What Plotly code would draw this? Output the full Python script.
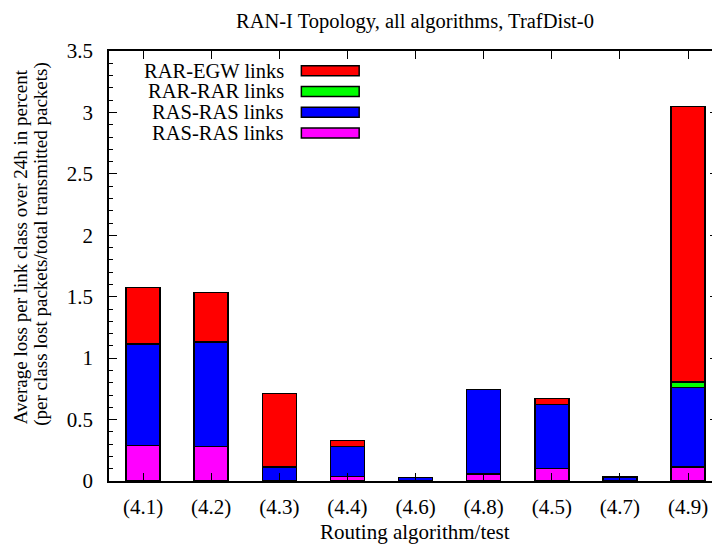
import plotly.graph_objects as go

# ---- data ----
categories = ["(4.1)", "(4.2)", "(4.3)", "(4.4)", "(4.6)", "(4.8)", "(4.5)", "(4.7)", "(4.9)"]
ras_ras_2 = [0.29, 0.28, 0.0, 0.035, 0.0, 0.057, 0.10, 0.0, 0.116]     # magenta (bottom)
ras_ras_1 = [0.825, 0.85, 0.116, 0.247, 0.03, 0.689, 0.524, 0.033, 0.647]  # blue
rar_rar = [0, 0, 0, 0, 0, 0, 0, 0, 0.043]                                # green
rar_egw = [0.462, 0.404, 0.598, 0.046, 0, 0, 0.049, 0, 2.241]            # red (top)
legend_names = ["RAR-EGW links", "RAR-RAR links", "RAS-RAS links", "RAS-RAS links"]
legend_colors = ["#ff0000", "#00ff00", "#0000ff", "#ff00ff"]
y_ticks = [0, 0.5, 1, 1.5, 2, 2.5, 3, 3.5]

# page has an 8px body margin: figure occupies page pixels 8..720 x 8..544
OFF = 8
W, H = 720 - OFF, 544 - OFF
L, R, T, B = 109 - OFF, 0, 51 - OFF, 544 - 481
PW, PH = W - L - R, H - T - B

def px(x):  # page pixel -> paper x
    return (x - OFF - L) / PW

def py(y):  # page pixel -> paper y
    return (481 - y) / PH

FONT = "Liberation Serif, Times New Roman, serif"
fig = go.Figure()
stack = [(ras_ras_2, "#ff00ff", legend_names[3]),
         (ras_ras_1, "#0000ff", legend_names[2]),
         (rar_rar, "#00ff00", legend_names[1]),
         (rar_egw, "#ff0000", legend_names[0])]
for vals, col, name in stack:
    fig.add_trace(go.Bar(x=categories, y=vals, name=name, width=0.5,
                         marker=dict(color=col, line=dict(color="black", width=1.5)),
                         showlegend=False))

axis_common = dict(showline=True, linecolor="black", linewidth=1.5, mirror="allticks",
                   ticks="inside", tickcolor="black", showgrid=False, zeroline=False,
                   tickfont=dict(size=21, family=FONT, color="black"))
fig.update_layout(
    width=W, height=H, barmode="stack",
    margin=dict(l=L, r=R, t=T, b=B, pad=0),
    paper_bgcolor="white", plot_bgcolor="white",
    font=dict(family=FONT, size=21, color="black"),
    bargap=0.5,
    xaxis=dict(range=[-0.5, 8.44], ticklen=8, tickwidth=1, ticklabelstandoff=6,
               tickmode="array", tickvals=categories, **axis_common),
    yaxis=dict(range=[0, 3.5], tickvals=y_ticks, ticktext=[f"{v:g}" for v in y_ticks],
               ticklen=8, tickwidth=1, ticklabelstandoff=10,
               minor=dict(ticks="inside", dtick=0.1, ticklen=4, tickcolor="black", tickwidth=1),
               **axis_common),
)

ann = []
ann.append(dict(text="RAN-I Topology, all algorithms, TrafDist-0", xref="paper", yref="paper",
                x=px(416), y=py(8), xanchor="center", yanchor="top", showarrow=False,
                font=dict(size=20.5, family=FONT)))
ann.append(dict(text="Routing algorithm/test", xref="paper", yref="paper",
                x=px(416.5), y=py(532), xanchor="center", yanchor="middle", showarrow=False,
                font=dict(size=21, family=FONT)))
ann.append(dict(text="Average loss per link class over 24h in percent", xref="paper", yref="paper",
                x=px(20.5), y=py(246.5), xanchor="center", yanchor="middle", showarrow=False,
                textangle=-90, font=dict(size=19, family=FONT)))
ann.append(dict(text="(per class lost packets/total transmitted packets)", xref="paper", yref="paper",
                x=px(40.5), y=py(244), xanchor="center", yanchor="middle", showarrow=False,
                textangle=-90, font=dict(size=19, family=FONT)))

shapes = []
row_y = [70.7, 91.5, 112.2, 133]
for name, col, ry in zip(legend_names, legend_colors, row_y):
    ann.append(dict(text=name, xref="paper", yref="paper", x=px(287), y=py(ry),
                    xanchor="right", yanchor="middle", showarrow=False,
                    font=dict(size=20.5, family=FONT)))
    shapes.append(dict(type="rect", xref="paper", yref="paper",
                       x0=px(302), x1=px(360), y0=py(ry - 5), y1=py(ry + 5),
                       fillcolor=col, line=dict(color="black", width=1.5)))
fig.update_layout(annotations=ann, shapes=shapes)

fig.write_html("out.html")
